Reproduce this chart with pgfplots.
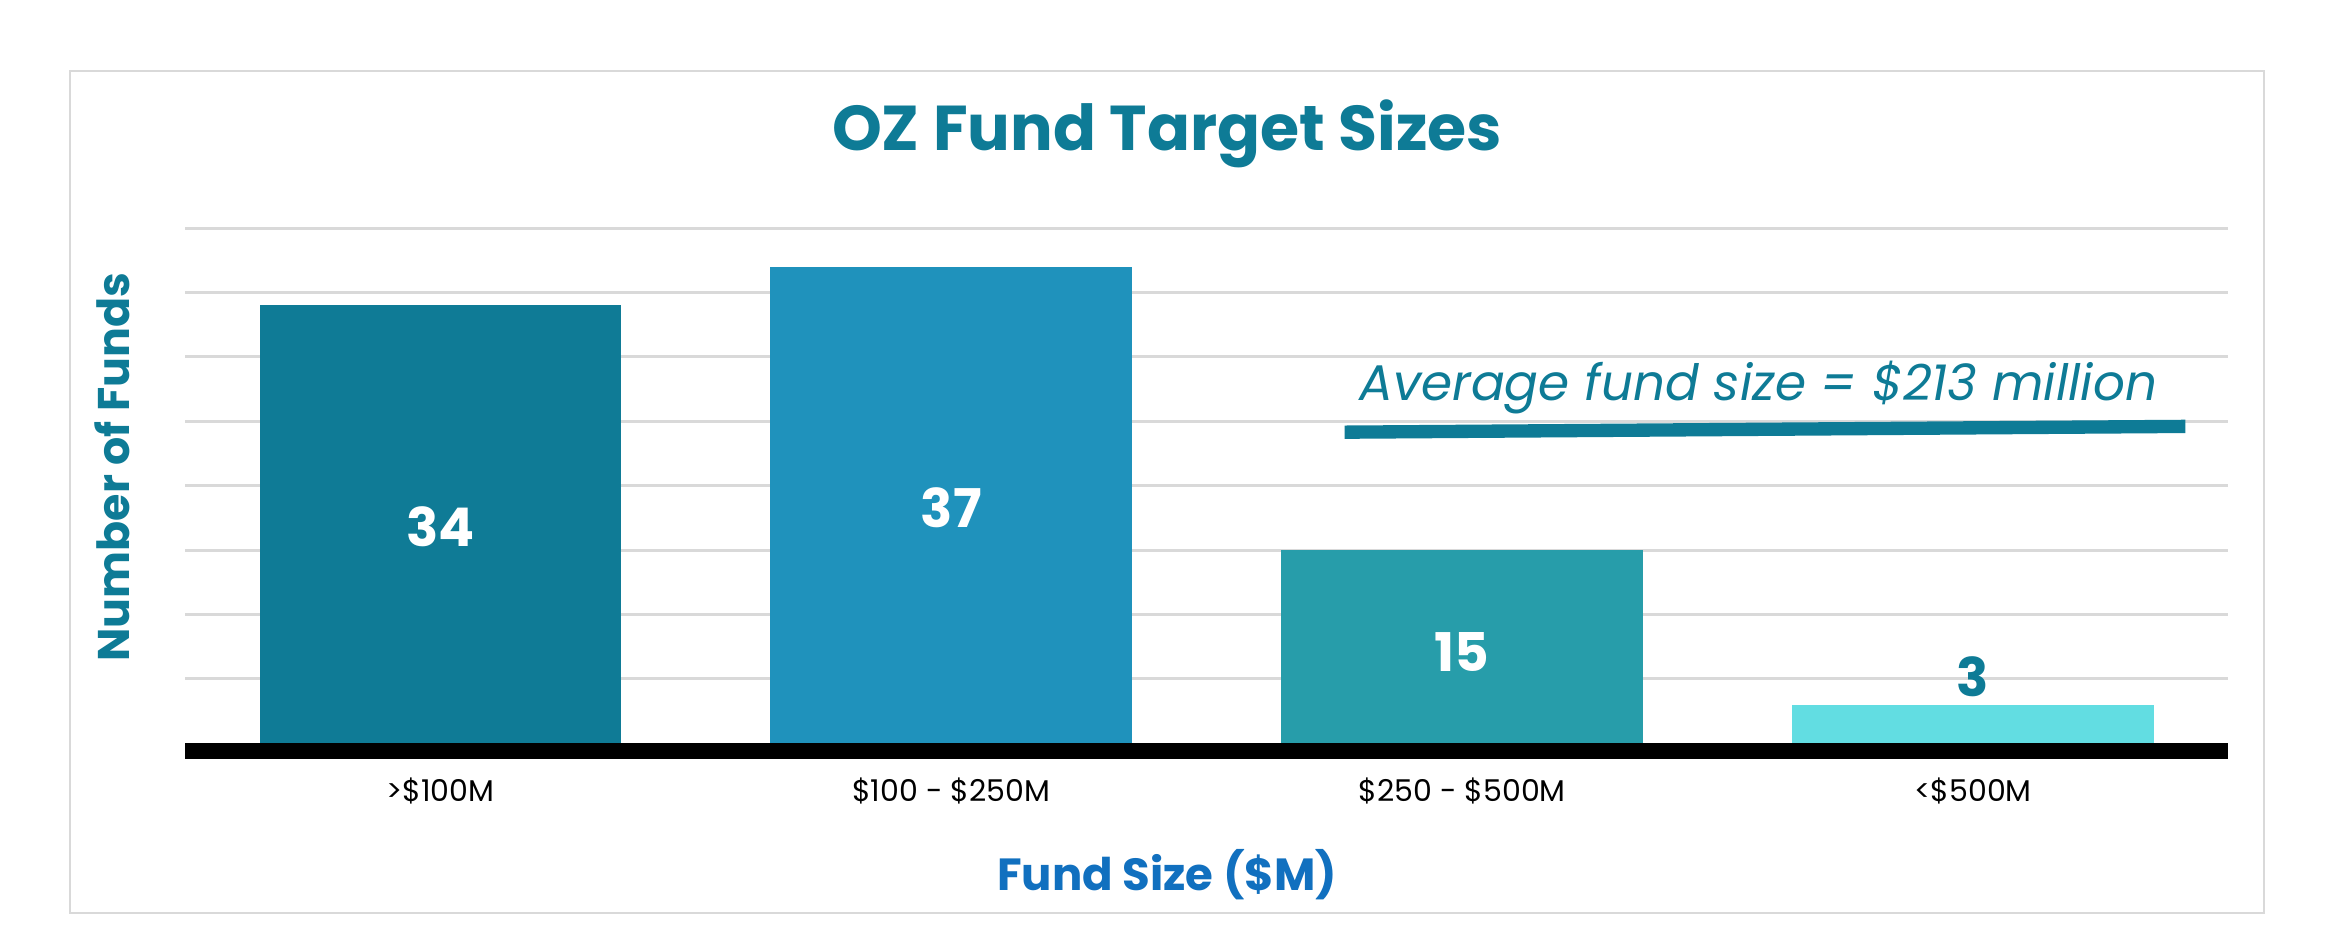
\documentclass[border=0pt]{standalone}
\usepackage{pgfplots}
\pgfplotsset{compat=1.18}
\usepackage{fontspec}
\setmainfont{Poppins}
\definecolor{cA}{HTML}{0F7B96}
\definecolor{cB}{HTML}{1F92BC}
\definecolor{cC}{HTML}{279DAA}
\definecolor{cD}{HTML}{62DDE2}
\definecolor{titlec}{HTML}{0E7B96}
\definecolor{xlab}{HTML}{1170BF}
\definecolor{gridc}{HTML}{D9D9D9}
\begin{document}
\begin{tikzpicture}
\path[use as bounding box] (0,0) rectangle (700pt,283.1pt);
\fill[white] (0,0) rectangle (700pt,283.1pt);
\draw[gridc, line width=0.8pt] (21pt,9.3pt) rectangle (679pt,261.8pt);
\begin{axis}[
  at={(55.5pt,60.2pt)}, anchor=south west,
  scale only axis, width=612.8pt, height=154.5pt,
  xmin=-0.5, xmax=3.5, ymin=0, ymax=40,
  clip=false,
  axis line style={draw=none},
  tick style={draw=none},
  ytick={5,10,...,40}, yticklabels={},
  ymajorgrids, grid style={gridc, line width=0.9pt},
  xtick={0,1,2,3},
  xticklabels={{>\$100M},{\$100 - \$250M},{\$250 - \$500M},{<\$500M}},
  xticklabel style={anchor=center, yshift=-14.3pt, font=\fontsize{9}{10}\selectfont, text=black},
  bar width=0.708,
]
\draw[black, line width=4.8pt] ([yshift=-2.4pt]rel axis cs:0,0) -- ([yshift=-2.4pt]rel axis cs:1,0);
\addplot[ybar, bar shift=0pt, fill=cA, draw=none] coordinates {(0,34)};
\addplot[ybar, bar shift=0pt, fill=cB, draw=none] coordinates {(1,37)};
\addplot[ybar, bar shift=0pt, fill=cC, draw=none] coordinates {(2,15)};
\addplot[ybar, bar shift=0pt, fill=cD, draw=none] coordinates {(3,3)};
\addplot[draw=none, mark=none, nodes near coords, point meta=explicit symbolic,
  every node near coord/.append style={anchor=center, text=white, font=\bfseries\fontsize{16}{18}\selectfont}]
  table[meta=label] {
x y label
0 16.8 34
1 18.3 37
2 7.1 15
};
\addplot[draw=none, mark=none, nodes near coords, point meta=explicit symbolic,
  every node near coord/.append style={anchor=center, text=titlec, font=\bfseries\fontsize{16}{18}\selectfont}]
  table[meta=label] {
x y label
3 5.15 3
};
\addplot[titlec, line width=4pt, mark=none] coordinates {(1.77,24.15) (3.416,24.6)};
\node[text=titlec, font=\itshape\fontsize{15}{17}\selectfont] at (axis cs:2.58,27.6) {Average fund size = \$213 million};
\end{axis}
\node[text=titlec, font=\bfseries\fontsize{19}{23}\selectfont] at (350pt,242.9pt) {OZ Fund Target Sizes};
\node[text=titlec, rotate=90, font=\bfseries\fontsize{13.3}{16}\selectfont] at (33.6pt,143pt) {Number of Funds};
\node[text=xlab, font=\bfseries\fontsize{13.5}{16}\selectfont] at (350pt,20.7pt) {Fund Size (\$M)};
\end{tikzpicture}
\end{document}
